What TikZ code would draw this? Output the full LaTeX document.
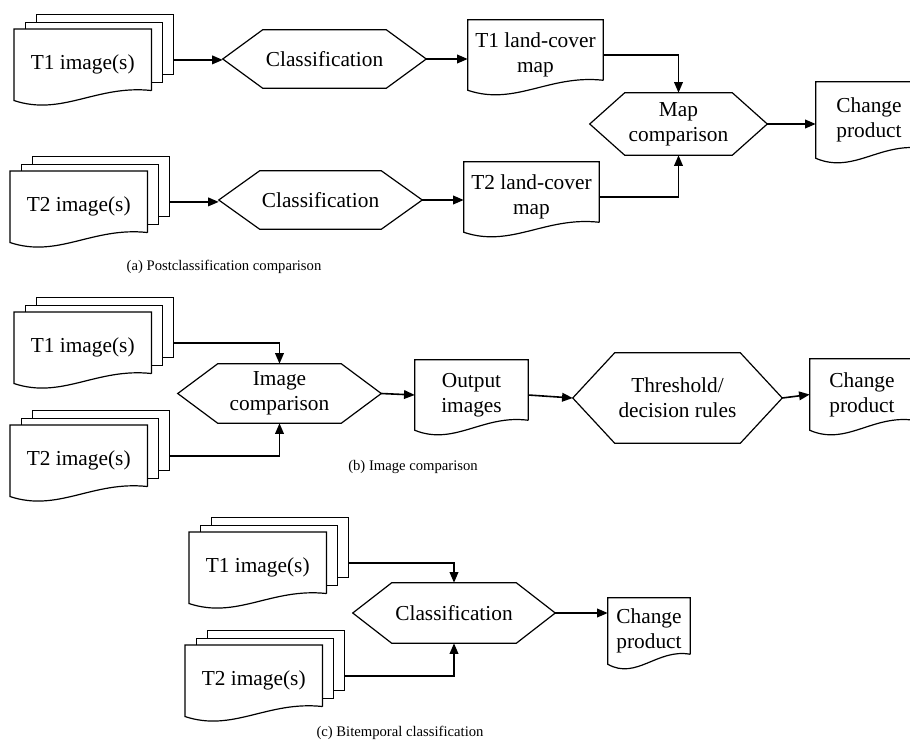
\documentclass[tikz,border=0pt]{standalone}
\usepackage{fontspec}
\setmainfont{Liberation Serif}
\usetikzlibrary{calc,arrows.meta}
\tikzset{
  every node/.style={font=\fontsize{16}{18.8}\selectfont},
  wh/.style 2 args={minimum width=#1*0.75pt, minimum height=#2*0.75pt},
  flow/.style={line width=1.2pt, -{Triangle[length=8pt,width=6.5pt]}},
  sheet/.style={draw, fill=white, line width=0.9pt, inner sep=0pt, wh={137}{60}},
  docnode/.style={fill=white, inner sep=0pt, align=center},
  hexnode/.style={inner sep=0pt, align=center},
  caption/.style={font=\fontsize{11}{13}\selectfont}
}
\newcommand{\docline}[1]{%
  \draw[line width=0.9pt] ($(#1.south east)+(0,-10)$) -- (#1.north east) -- (#1.north west) -- (#1.south west)
    .. controls ($(#1.south west)!0.35!(#1.south east)+(0,16)$) and ($(#1.south west)!0.6!(#1.south east)+(0,-16)$) .. ($(#1.south east)+(0,-10)$);}
\newcommand{\hexa}[2]{%
  \draw[line width=0.9pt] (#1.west) -- ([xshift=#2*0.75pt]#1.north west) -- ([xshift=-#2*0.75pt]#1.north east)
    -- (#1.east) -- ([xshift=-#2*0.75pt]#1.south east) -- ([xshift=#2*0.75pt]#1.south west) -- cycle;}
\newcommand{\stack}[3]{%
  \node[sheet, anchor=north west] (#1-3) at ($#2+(22,-15)$) {};
  \node[sheet, anchor=north west] (#1-2) at ($#2+(11,-7.5)$) {};
  \node[docnode, wh={137}{71}, anchor=north west] (#1) at #2 {#3};
  \docline{#1}
  \coordinate (#1-out) at ($(#1-3.north east)!0.75!(#1-3.south east)$);}
\begin{document}
\begin{tikzpicture}[x=0.75pt, y=-0.75pt]
  \useasboundingbox (0,0) rectangle (910,746);
  % (a)
  \stack{t1a}{(14,29)}{T1 image(s)}
  \stack{t2a}{(10,171)}{T2 image(s)}
  \node[hexnode, wh={203}{58}] (clsa1) at (324.5,59) {Classification}; \hexa{clsa1}{40}
  \node[hexnode, wh={203}{58}] (clsa2) at (320.5,200) {Classification}; \hexa{clsa2}{41}
  \node[docnode, wh={135}{70}] (map1) at (535.5,55) {T1 land-cover\\map}; \docline{map1}
  \node[docnode, wh={135}{70}] (map2) at (531.5,197) {T2 land-cover\\map}; \docline{map2}
  \node[hexnode, wh={177}{62}] (mapcmp) at (678.5,124) {Map\\comparison}; \hexa{mapcmp}{35}
  \node[docnode, wh={106}{76}] (chga) at (869,120) {Change\\product}; \docline{chga}
  \draw[flow] (t1a-out) -- (t1a-out -| clsa1.west);
  \draw[flow] (t2a-out) -- (t2a-out -| clsa2.west);
  \draw[flow] (clsa1.east) -- (clsa1.east -| map1.west);
  \draw[flow] (clsa2.east) -- (clsa2.east -| map2.west);
  \draw[flow] (map1.east) -| (mapcmp.north);
  \draw[flow] (map2.east) -| (mapcmp.south);
  \draw[flow] (mapcmp.east) -- (mapcmp.east -| chga.west);
  \node[caption] (capa) at (224,267) {(a) Postclassification comparison};
  % (b)
  \stack{t1b}{(14,312)}{T1 image(s)}
  \stack{t2b}{(10,425)}{T2 image(s)}
  \node[hexnode, wh={203}{59}] (imgcmp) at (279.5,393.5) {Image\\comparison}; \hexa{imgcmp}{40}
  \node[docnode, wh={113}{70}] (outimg) at (471.5,395) {Output\\images}; \docline{outimg}
  \node[hexnode, wh={209}{90}] (thr) at (677.5,398) {Threshold/\\decision rules}; \hexa{thr}{42}
  \node[docnode, wh={104}{71}] (chgb) at (862,394.5) {Change\\product}; \docline{chgb}
  \draw[flow] (t1b-out) -| (imgcmp.north);
  \draw[flow] (t2b-out) -| (imgcmp.south);
  \draw[flow] (imgcmp.east) -- (outimg.west);
  \draw[flow] (outimg.east) -- (thr.west);
  \draw[flow] (thr.east) -- (chgb.west);
  \node[caption] (capb) at (413,467) {(b) Image comparison};
  % (c)
  \stack{t1c}{(189,532)}{T1 image(s)}
  \stack{t2c}{(185,645)}{T2 image(s)}
  \node[hexnode, wh={202}{60}] (clsc) at (454,613) {Classification}; \hexa{clsc}{39}
  \node[docnode, wh={82}{66}] (chgc) at (649,631) {Change\\product}; \docline{chgc}
  \draw[flow] (t1c-out) -| (clsc.north);
  \draw[flow] (t2c-out) -| (clsc.south);
  \draw[flow] (clsc.east) -- (clsc.east -| chgc.west);
  \node[caption] (capc) at (400,733) {(c) Bitemporal classification};
\end{tikzpicture}
\end{document}
